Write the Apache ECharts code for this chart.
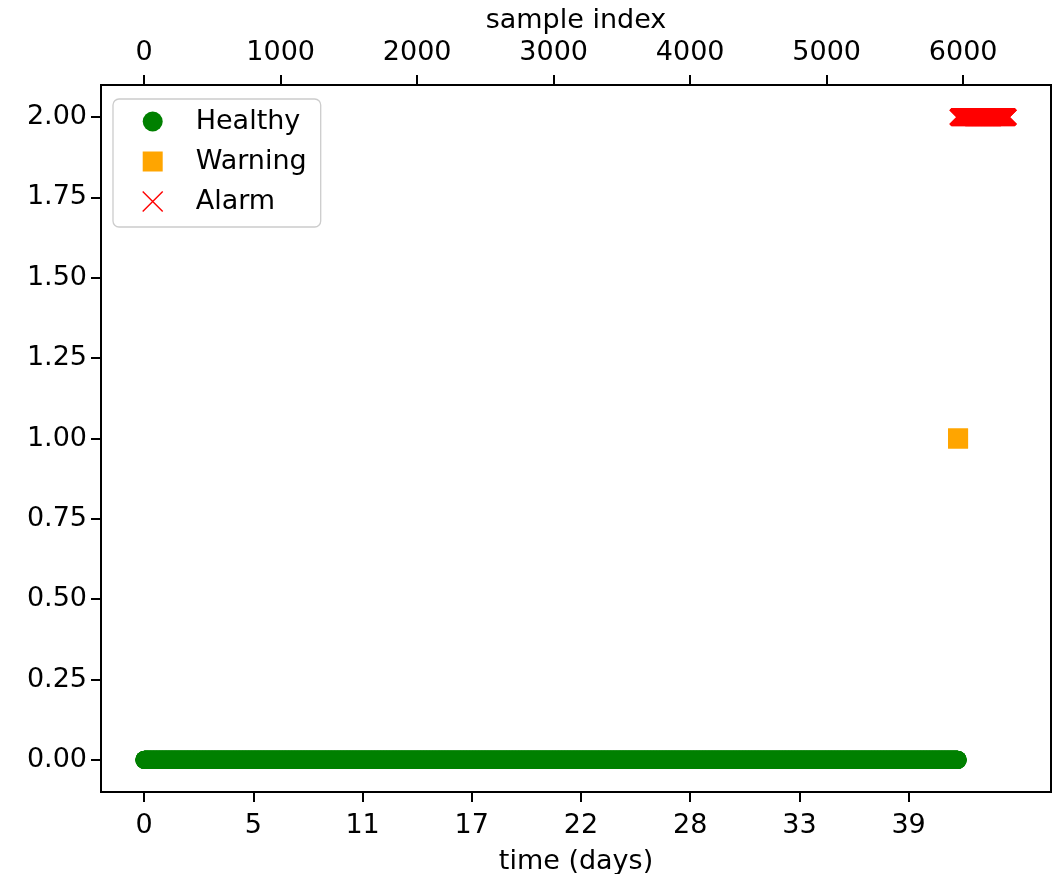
<!DOCTYPE html>
<html>
<head>
<meta charset="utf-8">
<title>status over time</title>
<script src="https://cdn.jsdelivr.net/npm/echarts@6/dist/echarts.min.js"></script>
<style>
  html, body { margin: 0; padding: 0; background: #fff; }
  #chart { width: 1059px; height: 874px; }
</style>
</head>
<body>
<div id="chart"></div>
<script>
// state per sample (10-minute samples, 144 per day)
const stateNames = ['Healthy', 'Warning', 'Alarm'];
const stateLevels = [0, 1, 2];
const stateFirstIndex = [0, 5962, 5965];
const stateLastIndex = [5961, 5963, 6327];

const topTickValues = [0, 1000, 2000, 3000, 4000, 5000, 6000];
const bottomTickValues = [0, 800, 1600, 2400, 3200, 4000, 4800, 5600];
const bottomTickLabels = ['0', '5', '11', '17', '22', '28', '33', '39'];
const yTickValues = [0, 0.25, 0.5, 0.75, 1, 1.25, 1.5, 1.75, 2];

const FONT = 'DejaVu Sans';
const FS = 27;
const X_PATH = 'path://M0,0L10,10M10,0L0,10';

// matplotlib-style 5% margins around the samples
const firstIdx = Math.min(...stateFirstIndex);
const lastIdx = Math.max(...stateLastIndex);
const pad = 0.05 * (lastIdx - firstIdx);
const xMin = firstIdx - pad;
const xMax = lastIdx + pad;

function points(k) {
  const out = [];
  for (let i = stateFirstIndex[k]; i <= stateLastIndex[k]; i++) out.push([i, stateLevels[k]]);
  return out;
}

const chart = echarts.init(document.getElementById('chart'), null, { renderer: 'canvas' });

const axisCommon = {
  type: 'value',
  min: xMin,
  max: xMax,
  splitLine: { show: false },
  axisLine: { show: true, onZero: false, lineStyle: { color: '#000', width: 2 } },
  axisTick: { show: true, length: 10, lineStyle: { color: '#000', width: 2 } },
  nameLocation: 'middle',
  nameTextStyle: { fontFamily: FONT, fontSize: FS, color: '#000' }
};

chart.setOption({
  animation: false,
  backgroundColor: '#fff',
  textStyle: { fontFamily: FONT },
  grid: {
    left: 101, right: 8, top: 85, bottom: 82,
    outerBoundsMode: 'none', containLabel: false,
    show: true, borderColor: '#000', borderWidth: 2, backgroundColor: '#fff'
  },
  legend: {
    orient: 'vertical',
    left: 113, top: 99,
    padding: [9, 14, 12, 29],
    itemGap: 13,
    itemWidth: 20, itemHeight: 20,
    backgroundColor: '#fff',
    borderColor: '#cccccc', borderWidth: 1.3, borderRadius: 6,
    formatter: name => '{gap|}' + name,
    textStyle: {
      fontFamily: FONT, fontSize: FS, color: '#000',
      rich: { gap: { width: 28 } }
    },
    data: [
      { name: 'Healthy', icon: 'circle', itemStyle: { color: 'green' } },
      { name: 'Warning', icon: 'rect', itemStyle: { color: 'orange' } },
      { name: 'Alarm', icon: X_PATH, itemStyle: { color: 'red', borderColor: 'red', borderWidth: 1.4 } }
    ]
  },
  xAxis: [
    Object.assign({}, axisCommon, {
      position: 'bottom',
      name: 'time (days)',
      nameGap: 56,
      axisTick: Object.assign({}, axisCommon.axisTick, { customValues: bottomTickValues }),
      axisLabel: {
        customValues: bottomTickValues,
        margin: 20,
        fontFamily: FONT, fontSize: FS, color: '#000',
        formatter: v => bottomTickLabels[bottomTickValues.indexOf(v)]
      }
    }),
    Object.assign({}, axisCommon, {
      position: 'top',
      name: 'sample index',
      nameGap: 51,
      axisTick: Object.assign({}, axisCommon.axisTick, { customValues: topTickValues }),
      axisLabel: {
        customValues: topTickValues,
        margin: 19,
        fontFamily: FONT, fontSize: FS, color: '#000',
        formatter: v => String(v)
      }
    })
  ],
  yAxis: {
    type: 'value',
    min: -0.1, max: 2.1,
    splitLine: { show: false },
    axisLine: { show: true, onZero: false, lineStyle: { color: '#000', width: 2 } },
    axisTick: { show: true, length: 10, customValues: yTickValues, lineStyle: { color: '#000', width: 2 } },
    axisLabel: {
      customValues: yTickValues,
      margin: 14,
      fontFamily: FONT, fontSize: FS, color: '#000',
      formatter: v => v.toFixed(2)
    }
  },
  series: [
    {
      name: stateNames[0], type: 'scatter', xAxisIndex: 0,
      symbol: 'circle', symbolSize: 18,
      itemStyle: { color: 'green', opacity: 1 },
      large: false, progressive: 0,
      data: points(0)
    },
    {
      name: stateNames[1], type: 'scatter', xAxisIndex: 0,
      symbol: 'rect', symbolSize: 20,
      itemStyle: { color: 'orange', opacity: 1 },
      large: false, progressive: 0,
      data: points(1)
    },
    {
      name: stateNames[2], type: 'scatter', xAxisIndex: 0,
      symbol: X_PATH, symbolSize: 16,
      itemStyle: { color: 'red', borderColor: 'red', borderWidth: 3, opacity: 1 },
      large: false, progressive: 0,
      data: points(2)
    }
  ]
});
</script>
</body>
</html>
